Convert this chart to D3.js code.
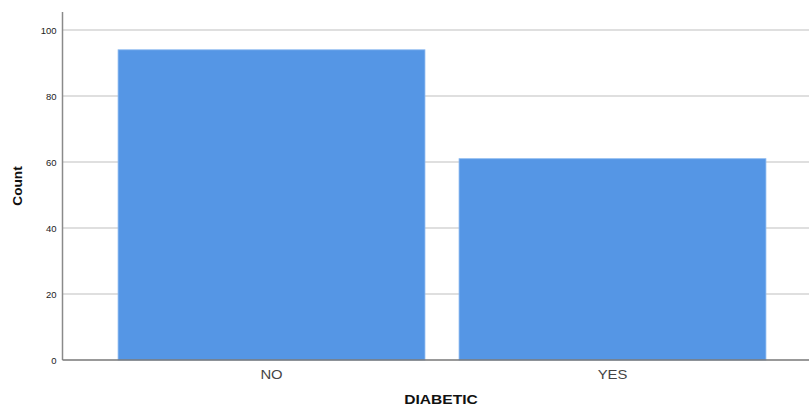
<!DOCTYPE html>
<html><head><meta charset="utf-8">
<script src="https://cdn.jsdelivr.net/npm/d3@7"></script>
<style>body{margin:0;background:#fff}svg{display:block}</style>
</head><body>
<svg id="c" width="809" height="407"></svg>
<script>
const categories = ["NO", "YES"];
const counts = [94, 61];
const yTicks = [0, 20, 40, 60, 80, 100];

(function () {
const svg = d3.select("#c");
const mLeft = 62.5, mBottom = 360, mTop = 12, mRight = 809;
const font = "Liberation Sans, Arial, sans-serif";
const x = d3.scaleBand().domain(categories).range([mLeft, 821.5]).paddingInner(0.1).paddingOuter(0.163);
const y = d3.scaleLinear().domain([0, 100]).range([mBottom, 30]);

// grid
svg.append("g").selectAll("line").data(yTicks.filter(d => d > 0)).join("line")
  .attr("x1", mLeft).attr("x2", mRight)
  .attr("y1", d => y(d)).attr("y2", d => y(d))
  .attr("stroke", "#d4d4d4").attr("stroke-width", 1.3);

// bars
svg.append("g").selectAll("rect").data(categories).join("rect")
  .attr("x", d => x(d)).attr("width", x.bandwidth())
  .attr("y", (d, i) => y(counts[i])).attr("height", (d, i) => mBottom - y(counts[i]))
  .attr("fill", "#5596e5").attr("stroke", "#8ab8f0").attr("stroke-width", 0.8);

// y axis
const ya = svg.append("g").attr("transform", `translate(${mLeft},0)`)
  .call(d3.axisLeft(y).tickValues(yTicks).tickSize(0).tickPadding(6));
ya.select(".domain").remove();
ya.selectAll("text").attr("font-family", font).attr("font-size", 9.5).attr("fill", "#222");
svg.append("line").attr("x1", mLeft).attr("x2", mLeft).attr("y1", mTop).attr("y2", mBottom)
  .attr("stroke", "#8a8a8a").attr("stroke-width", 1.5);

// x axis
const xa = svg.append("g").attr("transform", `translate(0,${mBottom})`)
  .call(d3.axisBottom(x).tickSize(0).tickPadding(0));
xa.select(".domain").remove();
xa.selectAll("text").attr("font-family", font).attr("font-size", 13.5).attr("fill", "#444")
  .attr("y", 0).attr("dy", 0)
  .attr("transform", "translate(0,19) scale(1.1,1)");
svg.append("line").attr("x1", mLeft).attr("x2", mRight).attr("y1", mBottom).attr("y2", mBottom)
  .attr("stroke", "#777").attr("stroke-width", 1.3);

// titles
svg.append("text").attr("transform", "translate(441,404) scale(1.2,1)").attr("text-anchor", "middle")
  .attr("font-family", font).attr("font-weight", "bold").attr("font-size", 13).attr("fill", "#111")
  .text("DIABETIC");
svg.append("text").attr("transform", "translate(22,186) rotate(-90) scale(1.05,1)").attr("text-anchor", "middle")
  .attr("font-family", font).attr("font-weight", "bold").attr("font-size", 13).attr("fill", "#111")
  .text("Count");
})();
</script>
</body></html>
